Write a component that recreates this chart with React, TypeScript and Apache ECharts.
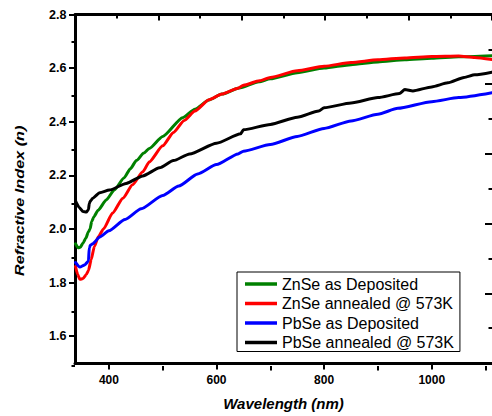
import React, { useEffect, useRef } from "react";
import * as echarts from "echarts";

const FONT = "'Liberation Sans', Arial, Helvetica, sans-serif";

const seriesNames = [
  "ZnSe as Deposited",
  "ZnSe annealed @ 573K",
  "PbSe as Deposited",
  "PbSe annealed @ 573K",
];
const seriesColors = ["#008000", "#ff0000", "#0000ff", "#000000"];

// ZnSe as deposited
const znseDepWl = [338, 343, 347, 352, 357, 362, 365, 368, 372, 380, 395, 410, 428, 440, 451, 465, 475, 500, 537, 560, 586, 610, 642, 679, 700, 750, 800, 850, 900, 950, 1000, 1050, 1112];
const znseDepN = [1.945, 1.93, 1.932, 1.948, 1.965, 1.99, 2.0, 2.028, 2.045, 2.07, 2.108, 2.145, 2.19, 2.225, 2.255, 2.283, 2.3, 2.345, 2.415, 2.447, 2.481, 2.503, 2.526, 2.549, 2.56, 2.583, 2.6, 2.613, 2.623, 2.631, 2.637, 2.642, 2.646];

// ZnSe annealed @ 573K
const znseAnnWl = [338, 342, 346, 352, 358, 362, 367, 373, 380, 390, 407, 426, 444, 463, 475, 500, 520, 540, 560, 586, 610, 640, 650, 680, 700, 750, 800, 850, 900, 950, 1000, 1050, 1080, 1112];
const znseAnnN = [1.86, 1.83, 1.812, 1.815, 1.83, 1.845, 1.885, 1.935, 1.97, 2.0, 2.06, 2.115, 2.165, 2.213, 2.25, 2.31, 2.36, 2.405, 2.44, 2.482, 2.503, 2.525, 2.536, 2.553, 2.565, 2.59, 2.607, 2.621, 2.631, 2.638, 2.643, 2.645, 2.64, 2.632];

// PbSe as deposited
const pbseDepWl = [338, 346, 355, 362, 363.5, 366, 370, 383, 400, 430, 460, 500, 530, 565, 600, 640, 650, 700, 750, 800, 850, 900, 937, 1000, 1050, 1112];
const pbseDepN = [1.875, 1.858, 1.866, 1.88, 1.93, 1.94, 1.945, 1.97, 1.993, 2.035, 2.075, 2.125, 2.16, 2.205, 2.24, 2.28, 2.29, 2.315, 2.345, 2.375, 2.403, 2.428, 2.45, 2.475, 2.49, 2.508];

// PbSe annealed @ 573K
const pbseAnnWl = [338, 345, 352, 358, 362, 363.5, 366, 370, 383, 401, 432, 463, 494, 520, 550, 600, 645, 650, 700, 750, 790, 800, 850, 900, 940, 950, 965, 1000, 1030, 1060, 1080, 1112];
const pbseAnnN = [2.105, 2.08, 2.065, 2.063, 2.072, 2.095, 2.105, 2.115, 2.135, 2.145, 2.17, 2.198, 2.228, 2.255, 2.28, 2.32, 2.355, 2.37, 2.39, 2.417, 2.44, 2.452, 2.47, 2.49, 2.505, 2.52, 2.515, 2.53, 2.545, 2.565, 2.575, 2.585];

const xMajorTicks = [400, 600, 800, 1000];
const xMinorTicks = [500, 700, 900, 1100];
const yMajorTicks = [1.6, 1.8, 2.0, 2.2, 2.4, 2.6, 2.8];
const yMinorTicks = [1.5, 1.7, 1.9, 2.1, 2.3, 2.5, 2.7];

const allWl = [znseDepWl, znseAnnWl, pbseDepWl, pbseAnnWl];
const allN = [znseDepN, znseAnnN, pbseDepN, pbseAnnN];

export default function App() {
  const ref = useRef<HTMLDivElement>(null);
  useEffect(() => {
    if (!ref.current) return;
    const chart = echarts.init(ref.current, undefined, { renderer: "svg" });
    const black = "#000";
    const gridBox = { left: 75, right: -2, top: 14.5, bottom: 50 };
    const option: any = {
      animation: false,
      backgroundColor: "#fff",
      grid: [gridBox, gridBox],
      xAxis: [
        {
          gridIndex: 0,
          type: "value",
          position: "bottom",
          min: 337,
          max: 1112,
          axisLine: { show: true, lineStyle: { color: black, width: 3 } },
          axisTick: { show: true, customValues: xMajorTicks, length: 6.5, lineStyle: { color: black, width: 2 } },
          axisLabel: {
            customValues: xMajorTicks,
            margin: 11,
            fontSize: 12,
            fontWeight: "bold",
            fontFamily: FONT,
            color: black,
            formatter: (v: number) => String(v),
          },
          splitLine: { show: false },
          name: "Wavelength (nm)",
          nameLocation: "middle",
          nameGap: 33,
          nameTextStyle: { fontSize: 15, fontWeight: "bold", fontStyle: "italic", fontFamily: FONT, color: black },
        },
        {
          gridIndex: 0,
          type: "value",
          position: "top",
          min: 0,
          max: 5,
          interval: 1,
          axisLine: { show: true, lineStyle: { color: black, width: 3 } },
          axisTick: { show: true, inside: true, length: 6, lineStyle: { color: black, width: 2 } },
          minorTick: { show: true, splitNumber: 2, length: 4, lineStyle: { color: black, width: 2 } },
          axisLabel: { show: false },
          splitLine: { show: false },
          minorSplitLine: { show: false },
        },
        {
          gridIndex: 1,
          type: "value",
          position: "bottom",
          min: 337,
          max: 1112,
          axisLine: { show: false },
          axisTick: { show: true, customValues: xMinorTicks, length: 4.5, lineStyle: { color: black, width: 2 } },
          axisLabel: { show: false },
          splitLine: { show: false },
        },
      ],
      yAxis: [
        {
          gridIndex: 0,
          type: "value",
          position: "left",
          min: 1.5,
          max: 2.8,
          axisLine: { show: true, lineStyle: { color: black, width: 3 } },
          axisTick: { show: true, customValues: yMajorTicks, length: 6, lineStyle: { color: black, width: 2 } },
          axisLabel: {
            customValues: yMajorTicks,
            margin: 8.5,
            fontSize: 12.5,
            fontWeight: "bold",
            fontFamily: FONT,
            color: black,
            formatter: (v: number) => v.toFixed(1),
          },
          splitLine: { show: false },
        },
        {
          gridIndex: 0,
          type: "value",
          position: "right",
          min: 0,
          max: 5,
          interval: 1,
          axisLine: { show: false },
          axisTick: { show: true, inside: true, length: 7, lineStyle: { color: black, width: 2 } },
          minorTick: { show: true, splitNumber: 2, length: 3.5, lineStyle: { color: black, width: 2 } },
          axisLabel: { show: false },
          splitLine: { show: false },
          minorSplitLine: { show: false },
        },
        {
          gridIndex: 1,
          type: "value",
          position: "left",
          min: 1.5,
          max: 2.8,
          axisLine: { show: false },
          axisTick: { show: true, customValues: yMinorTicks, length: 3.5, lineStyle: { color: black, width: 2 } },
          axisLabel: { show: false },
          splitLine: { show: false },
        },
      ],
      legend: {
        show: true,
        orient: "vertical",
        left: 237,
        top: 272,
        padding: [4, 6, 1, 8],
        itemGap: 3.5,
        itemWidth: 32,
        itemHeight: 3.5,
        icon: "rect",
        borderColor: "#000",
        borderWidth: 1,
        backgroundColor: "#fff",
        textStyle: { fontSize: 16, fontFamily: FONT, color: "#000" },
        data: seriesNames,
      },
      graphic: [
        {
          type: "text",
          x: 19.5,
          y: 200.8,
          rotation: Math.PI / 2,
          scaleX: 1.2,
          style: {
            text: "Refractive Index (n)",
            fontSize: 13.5,
            fontWeight: "bold",
            fontStyle: "italic",
            fontFamily: FONT,
            fill: "#000",
            align: "center",
            verticalAlign: "middle",
          },
        },
      ],
      series: seriesNames.map((name, i) => ({
        name,
        type: "line",
        xAxisIndex: 0,
        yAxisIndex: 0,
        showSymbol: false,
        symbol: "none",
        smooth: 0.2,
        smoothMonotone: "x",
        color: seriesColors[i],
        lineStyle: { color: seriesColors[i], width: 3, join: "round", cap: "round" },
        data: allWl[i].map((w, k) => [w, allN[i][k]]),
        z: 3,
      })),
    };
    chart.setOption(option);
    return () => chart.dispose();
  }, []);
  return (
    <div
      ref={ref}
      style={{ position: "fixed", left: 0, top: 0, width: 492, height: 416, overflow: "hidden" }}
    />
  );
}
